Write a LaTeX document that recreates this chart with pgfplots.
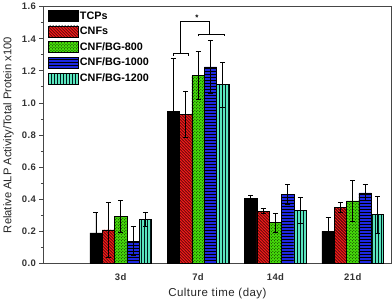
\documentclass[border=0pt]{standalone}
\usepackage{fontspec}
\setmainfont{Liberation Sans}
\usepackage{pgfplots}
\pgfplotsset{compat=1.18}
\usetikzlibrary{patterns}
\definecolor{cred}{RGB}{240,25,25}
\definecolor{cgreen}{RGB}{70,220,10}
\definecolor{cblue}{RGB}{30,40,225}
\definecolor{cteal}{RGB}{90,230,190}
\definecolor{axgray}{RGB}{70,70,70}

\pgfplotstableread{
x y e
1 0.19 0.13
2 0.95 0.33
3 0.406 0.02
4 0.20 0.085
}\tcps
\pgfplotstableread{
x y e
1 0.21 0.17
2 0.93 0.145
3 0.327 0.017
4 0.348 0.033
}\cnfs
\pgfplotstableread{
x y e
1 0.295 0.10
2 1.17 0.15
3 0.254 0.06
4 0.39 0.125
}\bgeight
\pgfplotstableread{
x y e
1 0.14 0.088
2 1.225 0.165
3 0.43 0.06
4 0.44 0.05
}\bgten
\pgfplotstableread{
x y e
1 0.275 0.045
2 1.115 0.14
3 0.33 0.08
4 0.304 0.115
}\bgtwelve

\begin{document}
\begin{tikzpicture}
\begin{axis}[
  scale only axis,
  width=347bp, height=256bp,
  xmin=0, xmax=4.5, ymin=0, ymax=1.6,
  ybar=0pt, bar width=0.16,
  axis line style={axgray, line width=1.1pt},
  xtick={1,2,3,4}, xticklabels={3d,7d,14d,21d},
  major x tick style={draw=none},
  ytick={0,0.2,...,1.6}, minor y tick num=1,
  ytick pos=left, xtick pos=bottom,
  tick align=outside,
  major tick length=4bp, minor tick length=2.5bp,
  tick style={axgray, line width=0.9pt},
  yticklabel style={/pgf/number format/fixed, /pgf/number format/fixed zerofill, /pgf/number format/precision=1},
  /pgf/number format/assume math mode=true,
  ticklabel style={font=\fontsize{9.5}{10}\selectfont\bfseries\addfontfeatures{LetterSpace=4}, text=black!80},
  xticklabel style={yshift=-3bp},
  ylabel={Relative ALP Activity/Total Protein x100},
  xlabel={Culture time (day)},
  label style={text=black!85},
  ylabel style={at={(axis description cs:-0.100,0.5)}, anchor=center, rotate=0, font=\fontsize{11.2}{12}\selectfont},
  xlabel style={at={(axis description cs:0.5,-0.117)}, anchor=center, font=\fontsize{11.5}{12}\selectfont\addfontfeatures{LetterSpace=4}},
  legend style={at={(0.012,0.988)}, anchor=north west, draw=none, fill=none,
    font=\fontsize{10.8}{11}\selectfont\bfseries, row sep=3.4bp,
    inner sep=0pt, nodes={inner sep=1.5bp}},
  legend cell align=left,
  legend image code/.code={\draw[#1, draw=black, line width=0.6pt] (0bp,-5.5bp) rectangle (30bp,5.5bp);},
  error bars/y dir=both, error bars/y explicit,
  error bars/error bar style={black, line width=0.9pt},
  error bars/error mark options={rotate=90, mark size=2.5bp, line width=0.9pt, black},
  clip=false,
]
\addplot[fill=black, draw=black, line width=0.5pt] table[x=x, y=y, y error=e] {\tcps};
\addlegendentry{TCPs}
\addplot[fill=cred, draw=black, line width=0.5pt, postaction={pattern=north west lines}] table[x=x, y=y, y error=e] {\cnfs};
\addlegendentry{CNFs}
\addplot[fill=cgreen, draw=black, line width=0.5pt, postaction={pattern=crosshatch dots}] table[x=x, y=y, y error=e] {\bgeight};
\addlegendentry{CNF/BG-800}
\addplot[fill=cblue, draw=black, line width=0.5pt, postaction={pattern=horizontal lines}] table[x=x, y=y, y error=e] {\bgten};
\addlegendentry{CNF/BG-1000}
\addplot[fill=cteal, draw=black, line width=0.5pt, postaction={pattern=vertical lines, pattern color=black!80!teal}] table[x=x, y=y, y error=e] {\bgtwelve};
\addlegendentry{CNF/BG-1200}
% significance brackets
\draw[black, line width=0.9pt] (axis cs:1.686,1.295) -- (axis cs:1.686,1.31) -- (axis cs:1.881,1.31) -- (axis cs:1.881,1.295);
\draw[black, line width=0.9pt] (axis cs:2.01,1.415) -- (axis cs:2.01,1.43) -- (axis cs:2.335,1.43) -- (axis cs:2.335,1.415);
\draw[black, line width=0.9pt] (axis cs:1.777,1.31) -- (axis cs:1.777,1.51) -- (axis cs:2.153,1.51) -- (axis cs:2.153,1.43);
\node[font=\fontsize{8}{9}\selectfont\bfseries, inner sep=0pt] at (axis cs:1.984,1.53) {*};
\end{axis}
\end{tikzpicture}
\end{document}
